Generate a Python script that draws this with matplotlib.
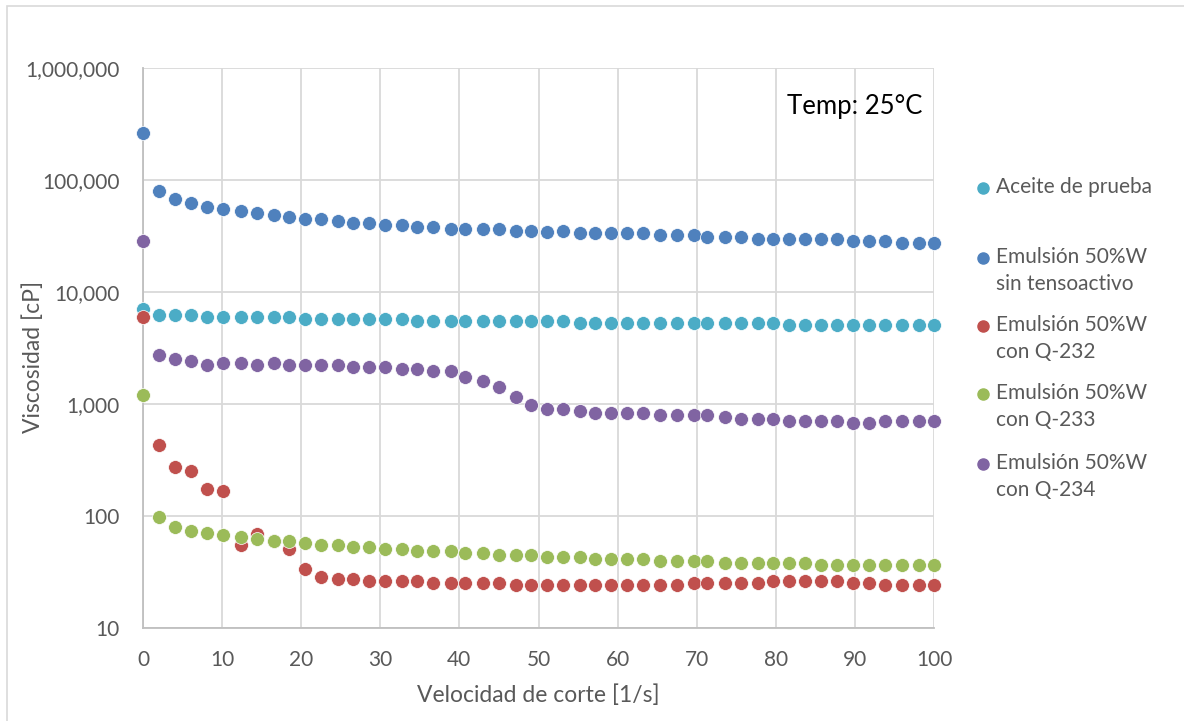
import matplotlib
matplotlib.use('Agg')
import matplotlib.pyplot as plt
from matplotlib.ticker import FixedLocator, FuncFormatter, NullLocator
from matplotlib.lines import Line2D
from matplotlib.patches import Rectangle

plt.rcParams['font.family'] = ['Lato', 'DejaVu Sans']

# shear rate [1/s]
shear = [0, 2.06, 4.08, 6.10, 8.13, 10.15, 12.4, 14.45, 16.5, 18.5,
         20.5, 22.5, 24.6, 26.6, 28.6, 30.6, 32.7, 34.7, 36.7, 39.0,
         40.7, 43.0, 45.0, 47.1, 49.1, 51.1, 53.1, 55.2, 57.2, 59.2,
         61.2, 63.2, 65.3, 67.5, 69.6, 71.3, 73.6, 75.6, 77.7, 79.7,
         81.7, 83.7, 85.7, 87.8, 89.8, 91.8, 93.8, 95.9, 98.1, 100]

# viscosity [cP]
aceite = [7100, 6240, 6240, 6240, 5980, 5980, 5980, 5980, 5980, 5980,
          5740, 5740, 5740, 5740, 5740, 5740, 5740, 5510, 5510, 5510,
          5510, 5510, 5510, 5510, 5510, 5510, 5510, 5290, 5290, 5290,
          5290, 5290, 5290, 5290, 5290, 5290, 5290, 5290, 5290, 5290,
          5070, 5070, 5070, 5070, 5070, 5070, 5070, 5070, 5070, 5070]
sin_tenso = [261000, 80300, 67600, 62400, 57400, 55100, 52900, 50400, 48700, 46800,
             44900, 44900, 43100, 41300, 41300, 39600, 39600, 38000, 38000, 36500,
             36500, 36500, 36500, 35100, 35100, 34600, 35100, 33400, 33400, 33400,
             33400, 33400, 32300, 32300, 32300, 31200, 31200, 31200, 29700, 29700,
             29700, 29700, 29700, 29700, 28400, 28400, 28400, 27200, 27200, 27200]
q232 = [5980, 430, 274, 252, 173, 167, 54.7, 68.7, 60, 50.4,
        33.4, 28.4, 27.2, 27.2, 26.1, 26.1, 26.1, 26.1, 25.1, 25.1,
        25.1, 25.1, 25.1, 24.1, 24.1, 24.1, 24.1, 24.1, 24.1, 24.1,
        24.1, 24.1, 24.1, 24.1, 25.1, 25.1, 25.1, 25.1, 25.1, 26.1,
        26.1, 26.1, 26.1, 26.1, 25.1, 25.1, 24.1, 24.1, 24.1, 24.1]
q233 = [1200, 97.9, 79.3, 73.0, 70.0, 67.2, 64.5, 61.9, 59.4, 59.4,
        57.0, 54.7, 54.7, 52.5, 52.5, 50.4, 50.4, 48.4, 48.4, 48.4,
        46.4, 46.4, 44.6, 44.6, 44.6, 42.8, 42.8, 42.8, 41.1, 41.1,
        41.1, 41.1, 39.4, 39.4, 39.4, 39.4, 37.8, 37.8, 37.8, 37.8,
        37.8, 37.8, 36.3, 36.3, 36.3, 36.3, 36.3, 36.3, 36.3, 36.3]
q234 = [28500, 2720, 2510, 2400, 2220, 2310, 2310, 2220, 2310, 2220,
        2220, 2220, 2220, 2130, 2130, 2130, 2040, 2040, 1960, 1960,
        1730, 1600, 1430, 1160, 980, 897, 897, 861, 826, 826,
        826, 826, 793, 793, 793, 793, 761, 730, 730, 730,
        700, 700, 700, 700, 673, 673, 700, 700, 700, 700]

series = [
    ('Aceite de prueba', aceite, '#4BACC6'),
    ('Emulsión 50%W\nsin tensoactivo', sin_tenso, '#4F81BD'),
    ('Emulsión 50%W\ncon Q-232', q232, '#C0504D'),
    ('Emulsión 50%W\ncon Q-233', q233, '#9BBB59'),
    ('Emulsión 50%W\ncon Q-234', q234, '#8064A2'),
]

W, H = 1184, 721
fig = plt.figure(figsize=(W / 100, H / 100), dpi=100)
ax = fig.add_axes([143 / W, 1 - 628 / H, (934 - 143) / W, (628 - 68) / H])

# chart border
fig.add_artist(Rectangle((7 / W, -0.1), 1.2, 0.1 + 1 - 6 / H, transform=fig.transFigure,
                         fill=False, edgecolor='#D9D9D9', linewidth=1.2))

for label, vals, color in series:
    ax.scatter(shear, vals, s=100, color=color, edgecolors='white', linewidths=0.5,
               clip_on=False, zorder=3)

ax.set_yscale('log')
ax.set_xlim(0, 100)
ax.set_ylim(10, 1e6)
ax.xaxis.set_major_locator(FixedLocator(range(0, 101, 10)))
ax.yaxis.set_major_locator(FixedLocator([10, 100, 1e3, 1e4, 1e5, 1e6]))
ax.yaxis.set_minor_locator(NullLocator())
ax.yaxis.set_major_formatter(FuncFormatter(lambda v, p: f'{v:,.0f}'))

ax.grid(True, color='#D9D9D9', linewidth=1.3)
ax.set_axisbelow(True)
for s in ['top', 'right']:
    ax.spines[s].set_visible(False)
for s in ['left', 'bottom']:
    ax.spines[s].set_color('#BFBFBF')
    ax.spines[s].set_linewidth(1.3)
ax.tick_params(length=0, labelsize=15, labelcolor='#595959')
ax.tick_params(axis='y', pad=17)
ax.tick_params(axis='x', pad=16)

ax.set_xlabel('Velocidad de corte [1/s]', fontsize=16.5, color='#595959', va='center')
ax.xaxis.set_label_coords(0.5, -0.12)
ax.set_ylabel('Viscosidad [cP]', fontsize=16.5, color='#595959', va='center')
ax.yaxis.set_label_coords(-0.139, 0.484)

ax.text(0.985, 0.932, 'Temp: 25°C', transform=ax.transAxes, ha='right', va='center',
        fontsize=18.5, color='black')

# legend (drawn by hand so the marker sits on the first line)
legend_y = [188, 258, 326, 394, 464]
for (label, vals, color), yp in zip(series, legend_y):
    fig.add_artist(Line2D([983 / W], [1 - yp / H], marker='o', markersize=8,
                          color=color, linestyle='none', transform=fig.transFigure))
    fig.text(996 / W, 1 - (yp - 11) / H, label, ha='left', va='top', fontsize=15,
             color='#595959', linespacing=1.45)

fig.savefig('out.png', dpi=100)
